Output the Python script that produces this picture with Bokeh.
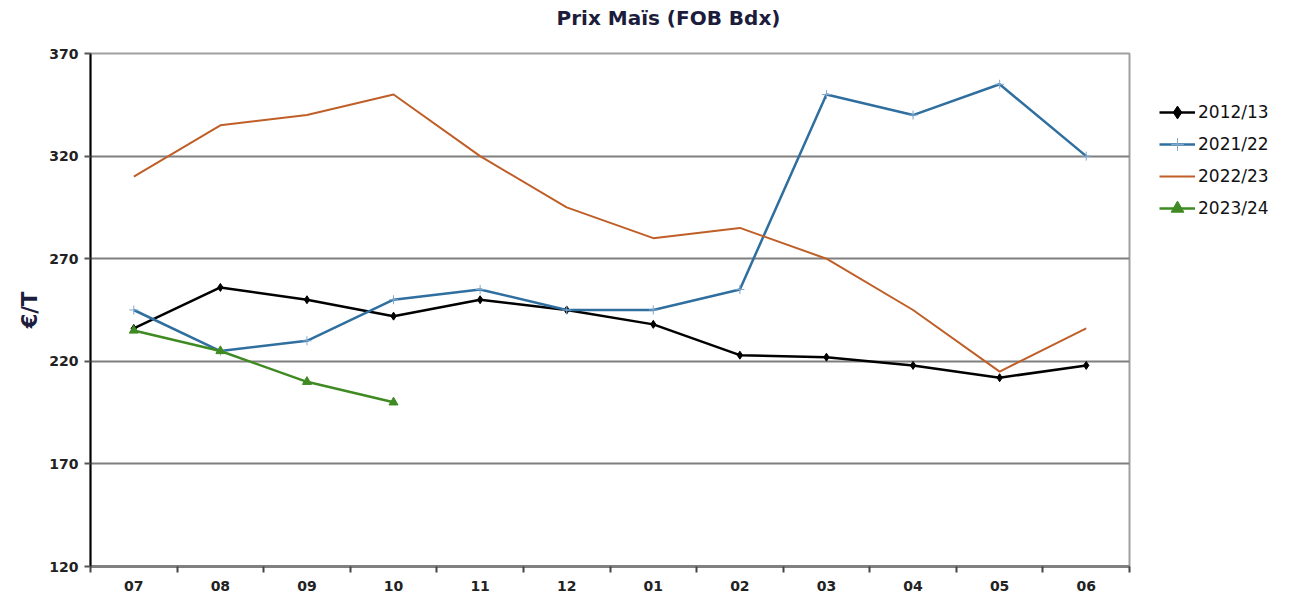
from bokeh.plotting import figure
from bokeh.models import FixedTicker, Legend, LegendItem, Range1d, Title
from bokeh.embed import file_html
from bokeh.resources import INLINE

months = ["07", "08", "09", "10", "11", "12", "01", "02", "03", "04", "05", "06"]
s2012 = [236, 256, 250, 242, 250, 245, 238, 223, 222, 218, 212, 218]
s2021 = [245, 225, 230, 250, 255, 245, 245, 255, 350, 340, 355, 320]
s2022 = [310, 335, 340, 350, 320, 295, 280, 285, 270, 245, 215, 236]
s2023 = [235, 225, 210, 200]
y_ticks = [120, 170, 220, 270, 320, 370]

FONT = "DejaVu Sans"
x = list(range(len(months)))

p = figure(frame_width=1039, frame_height=513, output_backend="svg", toolbar_location=None,
           title=None,
           x_range=Range1d(-0.5, len(months) - 0.5), y_range=Range1d(120, 370),
           min_border_left=90, min_border_right=0, min_border_top=53, min_border_bottom=28)

# spacer between frame and title (nearest the frame), then the title above it
p.add_layout(Title(text=" ", text_font_size="20px", standoff=0), "above")
p.add_layout(Title(text="Prix Maïs (FOB Bdx)", align="left", offset=466, standoff=0,
                   text_font=FONT, text_font_size="20px", text_color="#1c1c3c",
                   text_font_style="bold"), "above")

p.background_fill_color = "white"
p.outline_line_color = "#a0a0a0"
p.outline_line_width = 2

# grid
p.xgrid.grid_line_color = None
p.ygrid.ticker = FixedTicker(ticks=y_ticks)
p.ygrid.grid_line_color = "#7f7f7f"
p.ygrid.grid_line_width = 2

# y axis
p.yaxis.ticker = FixedTicker(ticks=y_ticks)
p.yaxis.axis_line_color = "black"
p.yaxis.axis_line_width = 2
p.yaxis.major_tick_line_color = "#555555"
p.yaxis.major_tick_line_width = 2
p.yaxis.major_tick_out = 6
p.yaxis.major_tick_in = 0
p.yaxis.minor_tick_line_color = None
p.yaxis.major_label_text_font = FONT
p.yaxis.major_label_text_font_size = "14px"
p.yaxis.major_label_text_font_style = "bold"
p.yaxis.major_label_text_color = "#222222"
p.yaxis.major_label_standoff = 6
p.yaxis.axis_label = "€/T"
p.yaxis.axis_label_text_font = FONT
p.yaxis.axis_label_text_font_size = "21px"
p.yaxis.axis_label_text_font_style = "bold"
p.yaxis.axis_label_text_color = "#1c1c3c"
p.yaxis.axis_label_standoff = 4

# x axis
p.xaxis.ticker = FixedTicker(ticks=x, minor_ticks=[i - 0.5 for i in range(len(months) + 1)])
p.xaxis.major_label_overrides = {i: m for i, m in enumerate(months)}
p.xaxis.axis_line_color = "#808080"
p.xaxis.axis_line_width = 3
p.xaxis.major_tick_line_color = None
p.xaxis.minor_tick_line_color = "#444444"
p.xaxis.minor_tick_line_width = 2
p.xaxis.minor_tick_out = 6
p.xaxis.minor_tick_in = 0
p.xaxis.major_label_text_font = FONT
p.xaxis.major_label_text_font_size = "14px"
p.xaxis.major_label_text_font_style = "bold"
p.xaxis.major_label_text_color = "#222222"
p.xaxis.major_label_standoff = 8

c_black = "#000000"
c_blue = "#2f6f9f"
c_orange = "#bf5f27"
c_green = "#3f8a22"

r1 = p.line(x, s2012, line_color=c_black, line_width=2.5)
m1 = p.scatter(x, s2012, marker="diamond", size=8, color=c_black)
r2 = p.line(x, s2021, line_color=c_blue, line_width=2.5)
m2 = p.scatter(x, s2021, marker="cross", size=9, line_color="#7fa8d0", line_width=1)
r3 = p.line(x, s2022, line_color=c_orange, line_width=2)
x4 = x[:len(s2023)]
r4 = p.line(x4, s2023, line_color=c_green, line_width=2.5)
m4 = p.scatter(x4, s2023, marker="triangle", size=9, color=c_green)

legend = Legend(items=[
    LegendItem(label="2012/13", renderers=[r1, m1]),
    LegendItem(label="2021/22", renderers=[r2, m2]),
    LegendItem(label="2022/23", renderers=[r3]),
    LegendItem(label="2023/24", renderers=[r4, m4]),
], location="top_left")
legend.title = " "
legend.title_text_font_size = "10px"
legend.title_standoff = 2
legend.border_line_color = None
legend.background_fill_alpha = 0
legend.label_text_font = FONT
legend.label_text_font_size = "17px"
legend.label_text_color = "#111111"
legend.glyph_width = 36
legend.glyph_height = 32
legend.label_height = 32
legend.spacing = 0
legend.label_standoff = 3
legend.padding = 0
legend.margin = 30
p.add_layout(legend, "right")

open("out.html", "w").write(file_html(p, INLINE))
